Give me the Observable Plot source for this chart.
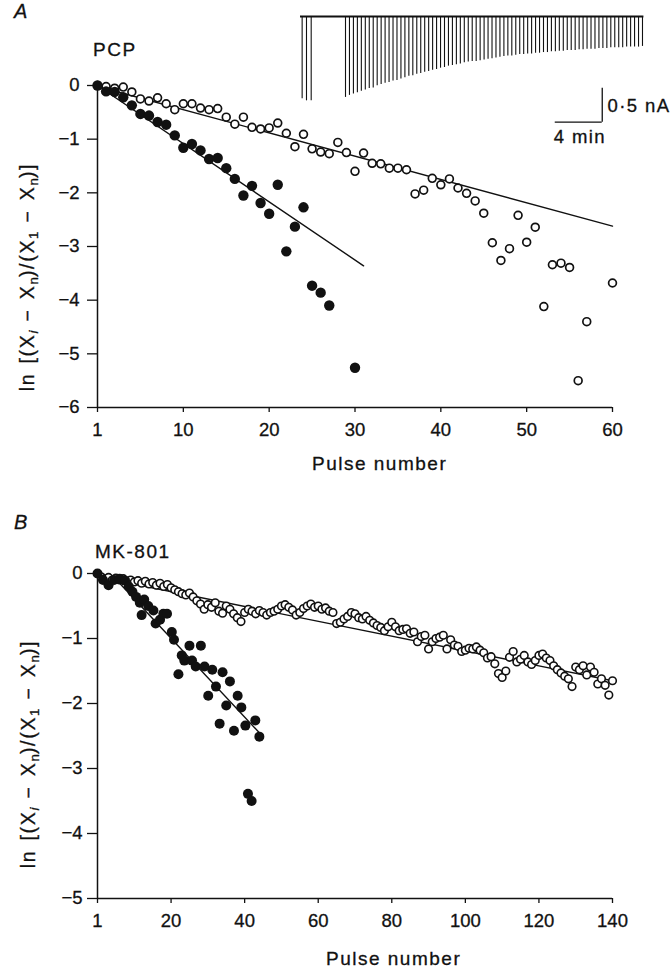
<!DOCTYPE html>
<html><head><meta charset="utf-8">
<script src="https://cdn.jsdelivr.net/npm/d3@7"></script>
<script src="https://cdn.jsdelivr.net/npm/@observablehq/plot@0.6"></script>
<style>
body{margin:0;background:#fff;}
#fig{position:relative;width:671px;height:970px;overflow:hidden;font-family:"Liberation Sans",Arial,Helvetica,sans-serif;color:#111;}
#fig svg text{stroke:#111;stroke-width:0.3px;}
.abs{position:absolute;white-space:nowrap;line-height:1;-webkit-text-stroke:0.3px #111;}
.lbl{font-size:19px;letter-spacing:1.5px;}
.panel{font-size:20px;font-style:italic;}
.ylab{font-size:19.5px;letter-spacing:1.7px;word-spacing:2px;transform:translate(-50%,-50%) rotate(-90deg);}
.ylab sub{font-size:0.68em;vertical-align:-0.28em;letter-spacing:0;line-height:0;}
</style></head><body><div id="fig"></div>
<script>
// ---------------- DATA ----------------
// Panel A (PCP): value per pulse position (null = not plotted)
const pcpControl = [0,-0.02,-0.05,-0.03,-0.12,-0.25,-0.29,-0.23,-0.34,-0.45,
  -0.34,-0.34,-0.42,-0.45,-0.43,-0.59,-0.72,-0.59,-0.78,-0.81,
  -0.79,-0.70,-0.89,-1.14,-0.91,-1.18,-1.24,-1.27,-1.06,-1.25,
  -1.60,-1.26,-1.45,-1.46,-1.54,-1.54,-1.57,-2.02,-1.95,-1.73,
  -1.85,-1.74,-1.91,-2.01,-2.15,-2.38,-2.93,-3.26,-3.04,-2.42,
  -2.92,-2.64,-4.12,-3.34,-3.31,-3.39,-5.50,-4.40,null,null,-3.68];
const pcpDrug = [0,-0.11,-0.12,-0.22,-0.37,-0.53,-0.56,-0.68,-0.73,-0.93,
  -1.16,-1.09,-1.21,-1.37,-1.35,-1.54,-1.74,-2.05,-1.87,-2.19,
  -2.39,-1.85,-3.09,-2.63,-2.27,-3.73,-3.86,-4.10,null,null,-5.26];
const pcpFitControlX = [1, 60], pcpFitControlY = [-0.06, -2.62];
const pcpFitDrugX = [0, 31], pcpFitDrugY = [0, -3.36];
const pcpXTicks = [0,10,20,30,40,50,60];
const pcpYTicks = [0,-1,-2,-3,-4,-5,-6];

// Panel B (MK-801)
const mkControl = [0,-0.05,-0.08,-0.06,-0.1,-0.07,-0.1,-0.08,-0.12,-0.1,
  -0.13,-0.11,-0.15,-0.12,-0.16,-0.14,-0.18,-0.15,-0.2,-0.17,
  -0.22,-0.25,-0.28,-0.31,-0.33,-0.3,-0.36,-0.42,-0.47,-0.55,
  -0.48,-0.52,-0.45,-0.58,-0.61,-0.5,-0.55,-0.62,-0.68,-0.74,
  -0.6,-0.55,-0.58,-0.62,-0.57,-0.6,-0.64,-0.6,-0.58,-0.55,
  -0.5,-0.48,-0.52,-0.56,-0.64,-0.6,-0.54,-0.5,-0.47,-0.52,
  -0.5,-0.55,-0.53,-0.58,-0.6,-0.77,-0.75,-0.7,-0.66,-0.6,
  -0.62,-0.68,-0.7,-0.66,-0.72,-0.76,-0.8,-0.83,-0.88,-0.82,
  -0.75,-0.82,-0.88,-0.86,-0.85,-0.92,-0.9,-1.05,-0.97,-0.95,
  -1.16,-1.05,-1.0,-0.98,-0.95,-1.16,-1.02,-1.1,-1.12,-1.2,
  -1.18,-1.15,-1.16,-1.13,-1.18,-1.22,-1.3,-1.28,-1.39,-1.54,
  -1.6,-1.5,-1.29,-1.2,-1.36,-1.32,-1.26,-1.36,-1.4,-1.34,
  -1.26,-1.24,-1.3,-1.34,-1.42,-1.48,-1.53,-1.58,-1.62,-1.74,
  -1.44,-1.48,-1.42,-1.56,-1.44,-1.52,-1.7,-1.62,-1.72,-1.87,-1.65];
const mkDrugX = [0,1.5,3,4.5,6,7.5,8.5,9.5,10.5,11.5,12,12.7,13.8,15.2,15.8,17,17.9,18.9,20.2,20.8,
  22,22.9,23.6,25,25.7,26.7,28.1,29.1,30.1,31.2,32.2,33.2,34,35,36,37.1,38.1,39.1,40.2,40.9,41.9,42.9,44];
const mkDrugY = [0,-0.1,-0.18,-0.1,-0.08,-0.11,-0.2,-0.28,-0.36,-0.45,-0.64,-0.4,-0.5,-0.57,-0.77,-0.71,-0.62,-0.62,-0.9,-1.02,
  -1.55,-1.26,-1.34,-1.11,-1.34,-1.43,-1.11,-1.43,-1.88,-1.48,-1.74,-2.31,-1.52,-2.03,-1.66,-2.42,-1.88,-2.06,-2.34,-3.39,-3.5,-2.26,-2.51];
const mkFitControlX = [0, 140], mkFitControlY = [-0.05, -1.65];
const mkFitDrugX = [5, 44], mkFitDrugY = [-0.09, -2.45];
const mkXTicks = [0,20,40,60,80,100,120,140];
const mkYTicks = [0,-1,-2,-3,-4,-5];

// Inset current trace (time in min, amplitude in nA, inward = downward)
const traceEarlyT = [0.14, 0.51, 0.91];
const traceEarlyAmp = [1.21, 1.24, 1.24];
const traceStartT = 3.83, traceInterval = 0.337;
const traceAmp = [1.19,1.16,1.14,1.12,1.10,1.08,1.06,1.05,1.02,1.00,
  0.98,0.97,0.95,0.94,0.92,0.90,0.88,0.87,0.85,0.84,
  0.82,0.81,0.79,0.78,0.76,0.75,0.73,0.72,0.71,0.70,
  0.68,0.67,0.66,0.66,0.65,0.64,0.63,0.62,0.61,0.60,
  0.59,0.58,0.58,0.57,0.56,0.56,0.55,0.55,0.54,0.54,
  0.53,0.53,0.52,0.52,0.51,0.51,0.50,0.50,0.50,0.49,
  0.49,0.48,0.48,0.48,0.47,0.47,0.47,0.46,0.46,0.46,
  0.46,0.45,0.45,0.45,0.45,0.44];
const scaleBarTime = 4, scaleBarCurrent = 0.5;
const scaleBarAtT = 25.68, scaleBarTopI = -1.054;

// ---------------- DRAW ----------------
const FONT = '"Liberation Sans", Arial, Helvetica, sans-serif';
const INK = "#111";
const fig = document.getElementById("fig");
const fmtX = d => d === 0 ? "1" : String(d);
const fmtY = d => (d < 0 ? "\u2212" : "") + Math.abs(d);
const series = arr => arr.map((v, i) => ({x: i, y: v})).filter(d => d.y != null);
const pairs = (xs, ys) => xs.map((x, i) => ({x, y: ys[i]}));
const baseStyle = {fontFamily: FONT, fontSize: "18.5px", color: INK, background: "transparent", overflow: "visible"};

function place(node, left, top) {
  node.style.position = "absolute";
  node.style.left = left + "px";
  node.style.top = top + "px";
  fig.appendChild(node);
}

const plotA = Plot.plot({
  width: 671, height: 490,
  marginLeft: 97, marginRight: 59, marginTop: 85, marginBottom: 83,
  x: {domain: [0, 60]}, y: {domain: [-6, 0]},
  style: baseStyle,
  marks: [
    Plot.axisX({ticks: pcpXTicks, tickSize: 5, tickPadding: 10, tickFormat: fmtX, label: null, strokeWidth: 1.3}),
    Plot.axisY({ticks: pcpYTicks, tickSize: 10, tickPadding: 8, tickFormat: fmtY, label: null, strokeWidth: 1.3}),
    Plot.ruleX([0], {stroke: INK, strokeWidth: 1.5}),
    Plot.ruleY([-6], {stroke: INK, strokeWidth: 1.5}),
    Plot.line(pairs(pcpFitControlX, pcpFitControlY), {x: "x", y: "y", stroke: INK, strokeWidth: 1.4}),
    Plot.line(pairs(pcpFitDrugX, pcpFitDrugY), {x: "x", y: "y", stroke: INK, strokeWidth: 1.4}),
    Plot.dot(series(pcpControl), {x: "x", y: "y", r: 3.9, stroke: INK, strokeWidth: 1.7, fill: "white"}),
    Plot.dot(series(pcpDrug), {x: "x", y: "y", r: 5.2, fill: INK})
  ]
});
place(plotA, 0, 0);

const plotB = Plot.plot({
  width: 671, height: 480,
  marginLeft: 97, marginRight: 59, marginTop: 83, marginBottom: 72,
  x: {domain: [0, 140]}, y: {domain: [-5, 0]},
  style: baseStyle,
  marks: [
    Plot.axisX({ticks: mkXTicks, tickSize: 5, tickPadding: 10, tickFormat: fmtX, label: null, strokeWidth: 1.3}),
    Plot.axisY({ticks: mkYTicks, tickSize: 10, tickPadding: 5, tickFormat: fmtY, label: null, strokeWidth: 1.3}),
    Plot.ruleX([0], {stroke: INK, strokeWidth: 1.5}),
    Plot.ruleY([-5], {stroke: INK, strokeWidth: 1.5}),
    Plot.line(pairs(mkFitControlX, mkFitControlY), {x: "x", y: "y", stroke: INK, strokeWidth: 1.4}),
    Plot.line(pairs(mkFitDrugX, mkFitDrugY), {x: "x", y: "y", stroke: INK, strokeWidth: 1.4}),
    Plot.dot(series(mkControl), {x: "x", y: "y", r: 3.8, stroke: INK, strokeWidth: 1.6, fill: "white"}),
    Plot.dot(pairs(mkDrugX, mkDrugY), {x: "x", y: "y", r: 5, fill: INK})
  ]
});
place(plotB, 0, 490);

// Inset trace
const spikes = traceEarlyT.map((t, i) => ({t, a: traceEarlyAmp[i]}))
  .concat(traceAmp.map((a, i) => ({t: traceStartT + i * traceInterval, a})));
const traceEnd = traceStartT + (traceAmp.length - 1) * traceInterval + 0.12;
const inset = Plot.plot({
  width: 381, height: 150, margin: 0,
  x: {domain: [-0.851, 31.574], axis: null},
  y: {domain: [-1.9706, 0.2353], axis: null},
  style: baseStyle,
  marks: [
    Plot.ruleY([0], {x1: 0, x2: traceEnd, stroke: INK, strokeWidth: 2}),
    Plot.ruleX(spikes, {x: "t", y1: 0, y2: d => -d.a, stroke: INK, strokeWidth: 1.1}),
    Plot.ruleX([scaleBarAtT], {y1: scaleBarTopI, y2: scaleBarTopI - scaleBarCurrent, stroke: INK, strokeWidth: 1.3}),
    Plot.ruleY([scaleBarTopI - scaleBarCurrent], {x1: scaleBarAtT - scaleBarTime, x2: scaleBarAtT, stroke: INK, strokeWidth: 1.3}),
    Plot.text(["0·5 nA"], {x: scaleBarAtT + 0.45, y: scaleBarTopI - scaleBarCurrent / 2 - 0.02, textAnchor: "start", fill: INK}),
    Plot.text([`${scaleBarTime} min`], {x: scaleBarAtT - scaleBarTime / 2 + 0.1, y: scaleBarTopI - scaleBarCurrent - 0.225, fill: INK})
  ]
});
inset.querySelectorAll("text").forEach(t => t.style.letterSpacing = "1.4px");
place(inset, 290, 0);

// HTML labels
function label(html, cls, left, baseline, size) {
  const d = document.createElement("div");
  d.className = "abs " + cls;
  d.innerHTML = html;
  d.style.left = left + "px";
  d.style.top = (baseline - 0.8465 * size) + "px";
  fig.appendChild(d);
  return d;
}
label("A", "panel", 14, 18, 20);
label("B", "panel", 14, 529, 20);
label("PCP", "lbl", 93, 56, 19);
label("MK-801", "lbl", 95, 558, 19);
label("Pulse number", "lbl", 312, 470, 19);
label("Pulse number", "lbl", 326, 965, 19);

const ylabHTML = 'ln [(X<sub><i>i</i></sub> − X<sub>n</sub>)/(X<sub>1</sub> − X<sub>n</sub>)]';
function ylab(cx, cy) {
  const d = document.createElement("div");
  d.className = "abs ylab";
  d.innerHTML = ylabHTML;
  d.style.left = cx + "px";
  d.style.top = cy + "px";
  fig.appendChild(d);
}
ylab(28, 277);
ylab(29, 754);
</script></body></html>
